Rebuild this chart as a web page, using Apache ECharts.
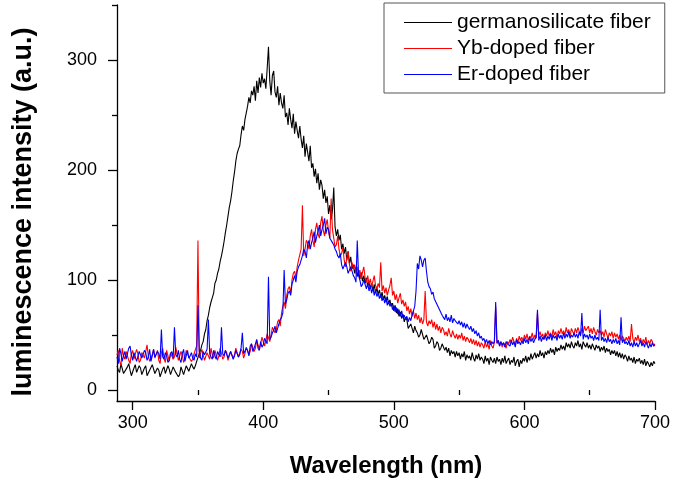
<!DOCTYPE html>
<html>
<head>
<meta charset="utf-8">
<script src="https://cdn.jsdelivr.net/npm/echarts@6/dist/echarts.min.js"></script>
<style>
html,body{margin:0;padding:0;background:#fff;}
#chart{width:673px;height:486px;}
</style>
</head>
<body>
<div id="chart"></div>
<script>
// Wavelength sampling grid (nm), 1 nm steps from 288 to 700
const wavelengthStart = 288;
const wavelengthStep = 1;

const seriesNames = ['germanosilicate fiber', 'Yb-doped fiber', 'Er-doped fiber'];

// germanosilicate fiber (10 values per row)
const germanosilicate = [
  22,18,16,24,25,15,14,19,21,24,
  18,13,13,20,23,16,17,22,20,14,
  15,20,22,13,12,18,19,23,24,15,
  14,20,18,12,13,19,21,15,16,22,
  19,14,13,21,22,16,17,12,14,21,
  20,14,15,22,23,17,18,24,21,19,
  22,26,27,33,36,41,44,51,55,63,
  68,75,80,84,88,97,100,106,110,117,
  122,128,135,143,150,158,166,172,180,190,
  198,208,215,219,222,232,240,236,246,252,
  258,266,261,272,268,276,263,281,270,284,
  275,288,279,283,274,292,312,281,268,286,
  290,271,266,276,259,270,261,256,268,248,
  252,241,256,246,238,251,233,244,236,229,
  240,228,220,231,212,224,216,208,222,202,
  206,194,201,188,197,182,191,186,174,182,
  170,176,160,168,155,163,184,148,140,146,
  136,141,128,133,124,130,118,126,115,121,
  110,114,106,112,103,109,101,107,99,104,
  97,102,94,99,92,97,90,96,88,93,
  87,91,84,89,82,86,80,85,78,82,
  76,79,72,77,70,74,67,71,65,69,
  62,66,64,56,58,60,56,52,58,54,
  52,48,50,55,54,46,48,50,46,42,
  44,48,46,38,40,44,42,36,38,42,
  41,36,39,34,38,31,36,33,35,30,
  35,31,34,28,33,30,35,27,32,29,
  31,27,34,29,26,32,28,33,27,30,
  28,24,31,26,29,23,30,27,25,29,
  24,30,26,28,23,29,25,31,24,27,
  29,23,27,25,30,22,26,28,21,27,
  24,29,26,31,25,30,27,33,28,31,
  34,29,33,30,36,31,34,29,35,32,
  36,33,38,34,37,32,39,35,38,36,
  41,37,40,36,43,39,42,38,44,40,
  38,43,40,45,39,42,37,44,41,39,
  43,38,41,37,42,39,36,41,38,40,
  35,39,36,40,34,38,35,37,32,36,
  33,36,31,35,30,34,29,33,28,32,
  30,26,31,27,29,25,30,24,28,26,
  29,24,27,23,28,22,26,24,21,25,
  22,26,24
];

// Yb-doped fiber
const ybDoped = [
  32,36,26,22,38,31,28,35,34,27,
  24,33,36,28,29,37,33,25,27,34,
  35,29,28,41,31,26,25,32,37,29,
  30,36,27,24,34,38,29,25,36,31,
  26,34,33,28,30,39,38,27,27,35,
  32,25,29,36,35,30,31,26,28,33,
  34,40,136,29,30,37,36,27,28,34,
  33,28,38,32,29,36,35,27,31,38,
  37,28,30,36,34,27,28,35,36,29,
  32,38,39,30,31,37,35,29,33,39,
  38,32,35,42,41,35,38,45,44,37,
  42,48,48,40,45,51,52,44,50,57,
  58,52,55,62,64,58,70,76,80,74,
  86,92,94,88,100,106,108,102,112,118,
  118,128,168,122,128,136,134,128,140,146,
  136,130,146,152,142,138,152,158,145,140,
  150,155,144,138,174,146,138,130,132,140,
  128,122,124,130,118,112,120,126,114,108,
  116,110,114,106,112,104,109,101,107,112,
  102,98,104,96,101,94,99,104,95,92,
  97,93,116,90,95,88,93,86,91,95,
  102,86,90,82,87,79,84,88,78,82,
  76,80,72,76,69,74,67,72,65,70,
  64,68,61,66,60,64,90,62,58,63,
  60,64,57,62,55,60,54,58,52,57,
  55,50,53,49,56,51,48,54,50,47,
  51,46,50,47,52,45,49,44,48,46,
  43,47,42,46,41,45,40,44,39,43,
  41,38,44,39,42,37,45,40,38,43,
  76,42,45,40,44,39,43,41,38,44,
  42,46,43,48,44,41,47,43,49,45,
  48,44,50,46,51,45,49,47,52,46,
  50,47,70,49,53,48,51,46,52,49,
  54,49,52,48,55,50,53,47,54,51,
  56,51,54,50,57,52,55,49,56,53,
  51,56,52,57,53,50,56,52,58,54,
  53,58,52,56,51,57,53,50,55,52,
  54,50,53,48,55,51,47,52,49,53,
  47,52,48,51,46,50,45,49,47,44,
  48,45,49,44,60,47,43,48,45,50,
  44,47,42,46,43,48,41,45,42,46,
  44,40,42
];

// Er-doped fiber
const erDoped = [
  30,24,38,33,26,31,35,28,29,38,
  40,32,27,34,33,26,25,35,36,29,
  28,36,34,27,30,37,26,31,37,30,
  29,35,33,28,55,30,28,34,31,25,
  27,33,35,29,57,32,30,36,28,25,
  33,37,26,31,36,29,31,34,29,27,
  33,30,77,36,29,27,35,32,31,37,
  64,33,30,28,36,31,28,35,34,30,
  57,33,31,36,36,29,29,35,34,28,
  31,36,37,30,32,38,52,33,33,38,
  36,31,40,42,35,38,42,46,38,36,
  44,39,41,47,47,42,103,46,48,52,
  54,58,52,56,60,64,66,70,109,78,
  82,88,90,86,96,100,104,98,108,112,
  114,118,122,128,126,120,132,136,128,134,
  138,144,134,140,144,150,140,146,150,156,
  142,148,146,138,138,134,132,128,126,122,
  120,124,114,110,110,116,112,106,106,112,
  108,104,102,98,136,104,100,94,96,100,
  96,92,97,90,95,88,93,86,91,85,
  88,83,87,81,85,79,84,77,81,76,
  79,73,77,71,75,69,73,67,72,66,
  68,64,67,62,66,63,68,72,76,90,
  115,110,122,118,112,118,120,108,98,94,
  92,87,89,83,84,78,77,73,72,68,
  67,64,69,63,66,62,68,61,65,63,
  64,60,63,59,62,57,61,56,60,57,
  55,58,53,56,51,54,49,52,47,49,
  45,47,43,46,42,45,41,44,42,44,
  80,43,45,40,44,41,43,39,44,42,
  43,40,45,41,44,39,46,42,44,41,
  45,42,47,43,46,42,48,44,47,43,
  46,48,73,45,49,44,48,46,50,45,
  49,46,51,45,50,47,49,45,51,47,
  50,46,52,47,51,48,53,47,50,48,
  52,48,51,47,53,49,70,46,51,48,
  50,46,51,47,49,45,50,46,48,45,
  73,45,48,44,47,43,48,44,46,42,
  46,43,47,42,45,41,66,43,46,42,
  44,41,45,40,43,39,44,40,43,39,
  42,45,40,43,39,44,41,38,42,39,
  43,40,41
];

const xMajorTicks = [300, 400, 500, 600, 700];
const xMinorTicks = [350, 450, 550, 650];
const yMajorTicks = [0, 100, 200, 300];
const yMinorTicks = [50, 150, 250, 350];

const wavelengths = germanosilicate.map((_, i) => wavelengthStart + i * wavelengthStep);
const toPairs = arr => arr.map((v, i) => [wavelengths[i], v]);

const FONT = '"Liberation Sans", Arial, sans-serif';
const colors = ['#000000', '#ff0000', '#0000ff'];
const dataSets = [germanosilicate, ybDoped, erDoped];

const chart = echarts.init(document.getElementById('chart'), null, {renderer: 'canvas'});
chart.setOption({
  animation: false,
  backgroundColor: '#ffffff',
  grid: {left: 117, right: 18, top: 5, bottom: 85, containLabel: false},
  legend: {
    orient: 'vertical',
    left: 384,
    top: 3,
    padding: [9, 14, 8, 20],
    itemGap: 5,
    itemWidth: 48,
    itemHeight: 1,
    icon: 'rect',
    borderColor: '#555555',
    borderWidth: 1,
    borderRadius: 0,
    data: seriesNames,
    textStyle: {fontFamily: FONT, fontSize: 21, color: '#000', lineHeight: 21}
  },
  graphic: [{
    type: 'text',
    x: 24,
    y: 212,
    rotation: Math.PI / 2,
    style: {
      text: 'luminescence intensity (a.u.)',
      font: 'bold 27px "Liberation Sans", Arial, sans-serif',
      fill: '#000',
      textAlign: 'center',
      textVerticalAlign: 'middle'
    }
  }],
  xAxis: [{
    type: 'value', min: 288, max: 700, position: 'bottom',
    name: 'Wavelength (nm)', nameLocation: 'middle', nameGap: 53,
    nameTextStyle: {fontFamily: FONT, fontSize: 24, fontWeight: 'bold', color: '#000'},
    axisLine: {show: true, onZero: false, lineStyle: {color: '#000', width: 1.3}},
    axisTick: {show: true, customValues: xMajorTicks, length: 9, lineStyle: {color: '#000', width: 1.3}},
    axisLabel: {customValues: xMajorTicks, fontFamily: FONT, fontSize: 18, color: '#000', margin: 13},
    splitLine: {show: false}
  }, {
    type: 'value', min: 288, max: 700, position: 'bottom',
    axisLine: {show: false},
    axisTick: {show: true, customValues: xMinorTicks, length: 5, lineStyle: {color: '#000', width: 1.3}},
    axisLabel: {show: false},
    splitLine: {show: false}
  }],
  yAxis: [{
    type: 'value', min: -10, max: 350, position: 'left',
    axisLine: {show: true, onZero: false, lineStyle: {color: '#000', width: 1.3}},
    axisTick: {show: true, customValues: yMajorTicks, length: 9, lineStyle: {color: '#000', width: 1.3}},
    axisLabel: {customValues: yMajorTicks, fontFamily: FONT, fontSize: 18, color: '#000', margin: 20},
    splitLine: {show: false}
  }, {
    type: 'value', min: -10, max: 350, position: 'left',
    axisLine: {show: false},
    axisTick: {show: true, customValues: yMinorTicks, length: 5, lineStyle: {color: '#000', width: 1.3}},
    axisLabel: {show: false},
    splitLine: {show: false}
  }],
  series: seriesNames.map((name, k) => ({
    name: name,
    type: 'line',
    xAxisIndex: 0,
    yAxisIndex: 0,
    data: toPairs(dataSets[k]),
    symbol: 'none',
    showSymbol: false,
    color: colors[k],
    lineStyle: {color: colors[k], width: 1.1},
    z: 2 + k
  }))
});
</script>
</body>
</html>
